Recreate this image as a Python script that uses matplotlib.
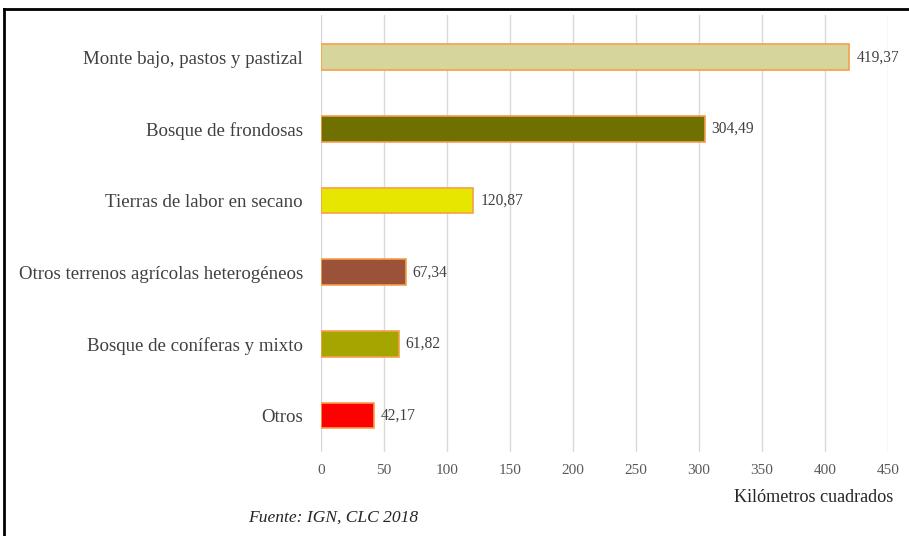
import numpy as np
import matplotlib.pyplot as plt
from matplotlib.lines import Line2D

# superficie por tipo de cubierta (km2)
categorias = ["Monte bajo, pastos y pastizal", "Bosque de frondosas",
              "Tierras de labor en secano", "Otros terrenos agrícolas heterogéneos",
              "Bosque de coníferas y mixto", "Otros"]
valores = [419.37, 304.49, 120.87, 67.34, 61.82, 42.17]
etiquetas = ["419,37", "304,49", "120,87", "67,34", "61,82", "42,17"]
colores = ["#D6D69C", "#707000", "#E6E600", "#9C5238", "#A5A500", "#FF0000"]
ticks_x = [0, 50, 100, 150, 200, 250, 300, 350, 400, 450]

plt.rcParams['font.family'] = ['Liberation Serif', 'DejaVu Serif']
gris = "#404040"

fig = plt.figure(figsize=(9.09, 5.36), dpi=100)
ax = fig.add_axes([321 / 909, (536 - 452) / 536, (888 - 321) / 909, (452 - 15) / 536])

y = np.arange(len(categorias))
ax.barh(y, valores, height=0.36, color=colores, edgecolor="#F5A04A",
        linewidth=1.2, zorder=3)

for yi, v, t in zip(y, valores, etiquetas):
    ax.annotate(t, (v, yi), xytext=(5, 0), textcoords="offset points",
                va="center", ha="left", fontsize=11.2, color=gris)

ax.set_xlim(0, 450)
ax.set_ylim(5.51, -0.59)
ax.set_xticks(ticks_x)
ax.set_yticks(y)
ax.set_yticklabels(categorias, fontsize=13.6, color=gris)
ax.tick_params(axis="x", length=0, pad=9, labelsize=11, labelcolor="#595959")
ax.tick_params(axis="y", length=0, pad=13)
ax.grid(axis="x", color="#D9D9D9", linewidth=1.0, zorder=0)
for s in ax.spines.values():
    s.set_visible(False)

fig.text(893 / 909, 1 - 497 / 536, "Kilómetros cuadrados", ha="right",
         va="center", fontsize=13.1, color="#262626")
fig.text(248 / 909, 1 - 518 / 536, "Fuente: IGN, CLC 2018", ha="left",
         va="center", fontsize=12.6, style="italic", color="#262626")

# marco de la imagen original
fig.add_artist(Line2D([3.5 / 909, 1], [1 - 8.5 / 536, 1 - 8.5 / 536],
                      transform=fig.transFigure, color="black", linewidth=2))
fig.add_artist(Line2D([3.5 / 909, 3.5 / 909], [0, 1 - 8.5 / 536],
                      transform=fig.transFigure, color="black", linewidth=2))

fig.savefig("out.png", dpi=100)
